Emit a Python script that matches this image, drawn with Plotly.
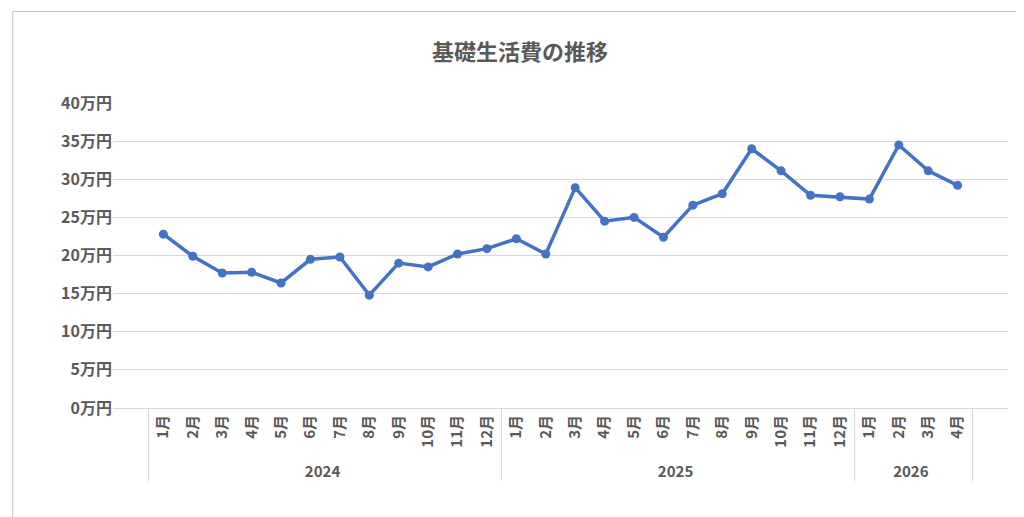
import plotly.graph_objects as go

years = ["2024"] * 12 + ["2025"] * 12 + ["2026"] * 4
months = [f"{m}月" for m in range(1, 13)] * 2 + [f"{m}月" for m in range(1, 5)]
values = [22.8, 19.9, 17.7, 17.8, 16.4, 19.5, 19.8, 14.8, 19.0, 18.5, 20.2, 20.9,
          22.2, 20.2, 28.9, 24.5, 25.0, 22.4, 26.6, 28.1, 34.0, 31.1, 27.9, 27.7,
          27.4, 34.5, 31.1, 29.2]

font = "Noto Sans CJK JP"
grey = "#595959"

fig = go.Figure(go.Scatter(
    x=[years, months], y=values, mode="lines+markers",
    line=dict(color="#4472C4", width=3.5),
    marker=dict(size=9, color="#4472C4"),
))

fig.update_layout(
    width=1024, height=517,
    paper_bgcolor="white", plot_bgcolor="white",
    title=dict(text="<b>基礎生活費の推移</b>", x=0.5, xanchor="center", y=0.93,
               font=dict(family=font, size=22, color=grey)),
    font=dict(family=font, size=15, color=grey),
    margin=dict(l=105, r=24, t=95, b=117),
    showlegend=False,
    shapes=[dict(type="rect", xref="paper", yref="paper", x0=-0.112, x1=1.022,
                 y0=-0.37, y1=1.3, line=dict(color="#BFBFBF", width=1))],
)
fig.update_yaxes(range=[0, 40], dtick=5, ticksuffix="万円", gridcolor="#D9D9D9",
                 tickfont=dict(size=16, color=grey, weight="bold"), zeroline=False)
fig.update_xaxes(type="multicategory", tickangle=-90, showdividers=True,
                 dividercolor="#D9D9D9", showline=True, linecolor="#D9D9D9",
                 tickfont=dict(size=15, color=grey, weight="bold"))

fig.write_html("out.html")
